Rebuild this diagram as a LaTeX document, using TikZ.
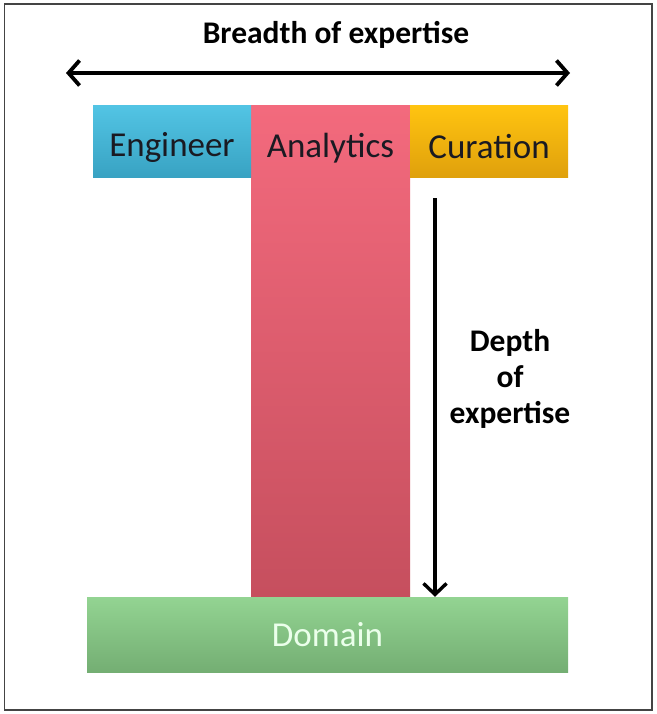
\documentclass[tikz,border=0pt]{standalone}
\usepackage{fontspec}
\setmainfont{Carlito}
\usetikzlibrary{arrows.meta,shadings}
\definecolor{engT}{HTML}{52C4E4}
\definecolor{engB}{HTML}{38A2C2}
\definecolor{anaT}{HTML}{F36A7D}
\definecolor{anaB}{HTML}{C64F5E}
\definecolor{curT}{HTML}{FFC410}
\definecolor{curB}{HTML}{DFA00C}
\definecolor{domT}{HTML}{93D492}
\definecolor{domB}{HTML}{74AE73}
\definecolor{frame}{HTML}{444444}
\definecolor{ink}{HTML}{1A1A22}
\tikzset{
  bar/.style={rectangle, inner sep=0pt, draw=none},
  boxtext/.style={font=\fontsize{35}{42}\selectfont, text=ink, inner sep=0pt},
  headtext/.style={font=\bfseries\fontsize{31.5}{36}\selectfont, text=black, inner sep=0pt, align=center},
  bigarrow/.style={line width=3.8pt, {Straight Barb[length=11pt,width=25pt,line width=3.8pt]}-{Straight Barb[length=11pt,width=25pt,line width=3.8pt]}},
  downarrow/.style={line width=3.4pt, -{Straight Barb[length=11pt,width=23pt,line width=3.4pt]}}
}
\begin{document}
\begin{tikzpicture}[x=1pt,y=-1pt]
\useasboundingbox (0,0) rectangle (656,714);
\fill[white] (0,0) rectangle (656,714);
\draw[frame, line width=1.4pt] (4.5,4) rectangle (652,710);

\node[headtext] (title) at (336,35) {Breadth of expertise};
\coordinate (bl) at (66,73);
\coordinate (br) at (570,73);
\draw[bigarrow] (bl) -- (br);

\node[bar, minimum width=159pt, minimum height=490pt, top color=anaT, bottom color=anaB] (ana) at (330.5,351) {};
\node[bar, minimum width=158pt, minimum height=72pt, top color=engT, bottom color=engB] (eng) at (172,142) {};
\node[bar, minimum width=158pt, minimum height=72pt, top color=curT, bottom color=curB] (cur) at (489,142) {};
\node[bar, minimum width=481pt, minimum height=75pt, top color=domT, bottom color=domB] (dom) at (327.5,634.5) {};

\node[boxtext] (engt) at (172,147) {Engineer};
\node[boxtext] (anat) at (330.5,148) {Analytics};
\node[boxtext] (curt) at (489,147) {Curation};
\node[boxtext, text=white!92!green] (domt) at (dom.center) {Domain};

\coordinate (dtop) at (435,198);
\draw[downarrow] (dtop) -- (dtop |- dom.north);

\node[headtext] (depth) at (510,379) {Depth\\of\\expertise};
\end{tikzpicture}
\end{document}
